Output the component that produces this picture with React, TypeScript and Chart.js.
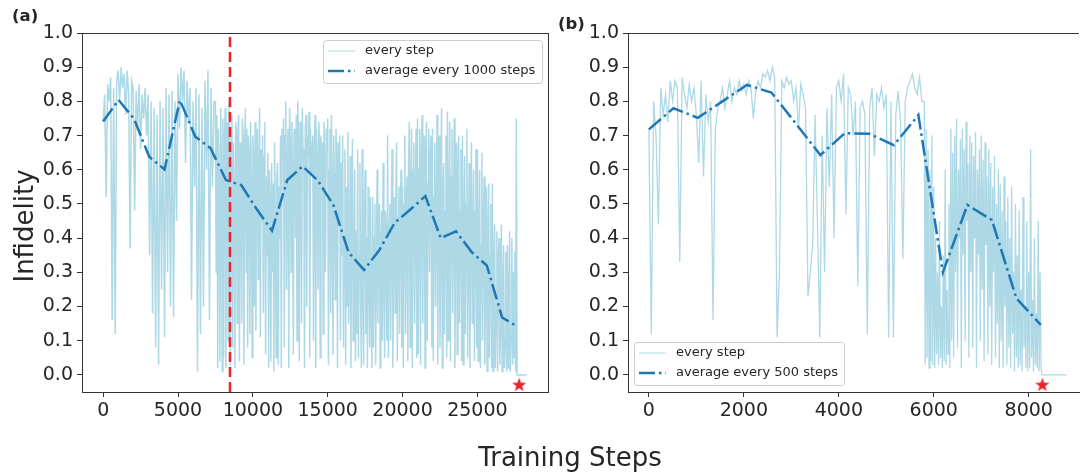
import React, { useEffect, useRef } from "react";
import { Chart, registerables } from "chart.js";

Chart.register(...registerables);

const FONT = "'DejaVu Sans', sans-serif";
const TEXT = "#262626";
const SPINE = "#333333";
const LIGHT = "#add8e6";
const AVG = "#1f77b4";
const RED = "#ee2229";

const yTicks = [0, 0.1, 0.2, 0.3, 0.4, 0.5, 0.6, 0.7, 0.8, 0.9, 1.0];
const xTicksA = [0, 5000, 10000, 15000, 20000, 25000];
const xTicksB = [0, 2000, 4000, 6000, 8000];

// ---------- panel (a) ----------
const stepSizeA1 = 100; // steps 0 .. 7400
const everyStepA1 = [
  0.74, 0.82, 0.52, 0.85, 0.80, 0.87, 0.16, 0.84, 0.12, 0.86,
  0.89, 0.80, 0.90, 0.84, 0.88, 0.76, 0.89, 0.82, 0.37, 0.86,
  0.84, 0.48, 0.83, 0.72, 0.85, 0.66, 0.82, 0.75, 0.84, 0.70,
  0.82, 0.35, 0.80, 0.18, 0.78, 0.08, 0.76, 0.03, 0.80, 0.25,
  0.78, 0.11, 0.84, 0.30, 0.82, 0.20, 0.83, 0.17, 0.80, 0.45,
  0.88, 0.72, 0.90, 0.80, 0.89, 0.62, 0.86, 0.74, 0.84, 0.22,
  0.80, 0.55, 0.84, 0.01, 0.82, 0.12, 0.78, 0.20, 0.86, 0.60,
  0.89, 0.16, 0.84, 0.55, 0.80,
];
const startA2 = 7500;
const stepSizeA2 = 50; // steps 7500 .. 27650
const everyStepA2 = [
  0.80, 0.30, 0.76, 0.02, 0.72, 0.55, 0.04, 0.78, 0.62, 0.01,
  0.75, 0.05, 0.70, 0.78, 0.02, 0.66, 0.74, 0.10, 0.80, 0.60, 0.03, 0.72, 0.76, 0.08, 0.68, 0.50, 0.02, 0.74, 0.70, 0.15,
  0.72, 0.76, 0.04, 0.68, 0.58, 0.15, 0.75, 0.70, 0.03, 0.66, 0.78, 0.30, 0.72, 0.08, 0.70, 0.64, 0.12, 0.74, 0.55, 0.05,
  0.70, 0.62, 0.20, 0.74, 0.13, 0.68, 0.72, 0.28, 0.60, 0.78, 0.11, 0.66, 0.45, 0.70, 0.18, 0.64, 0.74, 0.06, 0.58, 0.35,
  0.65, 0.02, 0.60, 0.50, 0.04, 0.62, 0.30, 0.56, 0.01, 0.68, 0.45, 0.05, 0.58, 0.62, 0.03, 0.55, 0.40, 0.70, 0.02, 0.72,
  0.64, 0.75, 0.08, 0.70, 0.80, 0.25, 0.62, 0.72, 0.02, 0.78, 0.68, 0.30, 0.74, 0.60, 0.06, 0.72, 0.66, 0.40, 0.76, 0.10,
  0.80, 0.68, 0.04, 0.74, 0.70, 0.15, 0.78, 0.66, 0.62, 0.02, 0.72, 0.76, 0.20, 0.70, 0.64, 0.77, 0.05, 0.72, 0.58, 0.68,
  0.70, 0.10, 0.66, 0.76, 0.02, 0.72, 0.62, 0.25, 0.74, 0.68, 0.05, 0.70, 0.56, 0.68, 0.12, 0.74, 0.60, 0.30, 0.72, 0.66,
  0.75, 0.03, 0.60, 0.72, 0.18, 0.76, 0.52, 0.06, 0.70, 0.58, 0.22, 0.72, 0.64, 0.02, 0.68, 0.45, 0.70, 0.10, 0.62, 0.35,
  0.70, 0.08, 0.40, 0.66, 0.03, 0.55, 0.20, 0.71, 0.15, 0.30, 0.64, 0.02, 0.48, 0.69, 0.10, 0.25, 0.60, 0.04, 0.42, 0.12,
  0.66, 0.05, 0.35, 0.62, 0.20, 0.02, 0.66, 0.28, 0.03, 0.50, 0.60, 0.12, 0.40, 0.02, 0.55, 0.30, 0.08, 0.52, 0.18, 0.02,
  0.52, 0.08, 0.40, 0.50, 0.03, 0.30, 0.60, 0.15, 0.45, 0.50, 0.02, 0.38, 0.48, 0.10, 0.62, 0.30, 0.05, 0.48, 0.40, 0.10,
  0.70, 0.05, 0.45, 0.50, 0.10, 0.48, 0.66, 0.02, 0.40, 0.52, 0.18, 0.50, 0.68, 0.04, 0.46, 0.55, 0.12, 0.50, 0.60, 0.08,
  0.55, 0.02, 0.50, 0.70, 0.12, 0.52, 0.58, 0.04, 0.62, 0.74, 0.08, 0.55, 0.72, 0.02, 0.60, 0.68, 0.15, 0.50, 0.72, 0.05,
  0.75, 0.06, 0.60, 0.72, 0.03, 0.62, 0.76, 0.15, 0.58, 0.70, 0.02, 0.66, 0.74, 0.10, 0.56, 0.72, 0.30, 0.64, 0.70, 0.08,
  0.72, 0.04, 0.52, 0.68, 0.20, 0.45, 0.76, 0.03, 0.50, 0.70, 0.08, 0.40, 0.78, 0.02, 0.55, 0.62, 0.12, 0.48, 0.70, 0.05,
  0.77, 0.10, 0.50, 0.74, 0.04, 0.58, 0.72, 0.18, 0.46, 0.75, 0.02, 0.52, 0.68, 0.06, 0.60, 0.70, 0.15, 0.48, 0.66, 0.04,
  0.70, 0.03, 0.44, 0.64, 0.12, 0.50, 0.72, 0.05, 0.38, 0.62, 0.02, 0.45, 0.68, 0.15, 0.40, 0.60, 0.04, 0.48, 0.66, 0.08,
  0.66, 0.04, 0.42, 0.60, 0.02, 0.38, 0.65, 0.10, 0.45, 0.58, 0.03, 0.30, 0.55, 0.01, 0.40, 0.56, 0.05, 0.35, 0.50, 0.02,
  0.56, 0.01, 0.30, 0.44, 0.02, 0.20, 0.42, 0.01, 0.35, 0.40, 0.03, 0.15, 0.44, 0.01, 0.25, 0.38, 0.02, 0.10, 0.36, 0.01,
  0.38, 0.02, 0.20, 0.42, 0.01, 0.12, 0.40, 0.03, 0.30, 0.05, 0.36, 0.01, 0.75, 0.00,
];
const flatEndA = { x: 28300, y: 0.0 };
const avgStepsA = [
  0, 1025, 2050, 3075, 4100, 5125, 6150, 7175, 8200, 9225, 10250, 11275, 12300, 13325,
  14350, 15375, 16400, 17425, 18450, 19475, 20500, 21525, 22550, 23575, 24600, 25625, 26650, 27675,
];
const avgA = [
  0.741, 0.804, 0.75, 0.638, 0.601, 0.804, 0.697, 0.663, 0.57, 0.555, 0.485, 0.422, 0.57, 0.61,
  0.568, 0.497, 0.358, 0.307, 0.365, 0.445, 0.483, 0.523, 0.40, 0.42, 0.36, 0.32, 0.168, 0.141,
];
const markerStepA = 8470;
const bestA = { x: 27790, y: -0.03 };
const legendLabelsA = ["every step", "average every 1000 steps"];

// ---------- panel (b) ----------
const stepSizeB1 = 50; // steps 0 .. 5750
const everyStepB1 = [
  0.72, 0.12, 0.80, 0.70, 0.44, 0.84, 0.76, 0.82, 0.74, 0.86,
  0.80, 0.86, 0.84, 0.33, 0.87, 0.82, 0.78, 0.85, 0.80, 0.84,
  0.76, 0.62, 0.86, 0.58, 0.82, 0.74, 0.80, 0.16, 0.72, 0.78,
  0.80, 0.84, 0.78, 0.82, 0.86, 0.80, 0.84, 0.82, 0.86, 0.83,
  0.85, 0.82, 0.86, 0.84, 0.75, 0.83, 0.86, 0.84, 0.88, 0.87,
  0.89, 0.86, 0.90, 0.87, 0.11, 0.30, 0.86, 0.84, 0.87, 0.85,
  0.86, 0.80, 0.84, 0.72, 0.85, 0.82, 0.78, 0.23, 0.30, 0.38,
  0.76, 0.45, 0.11, 0.70, 0.30, 0.78, 0.55, 0.82, 0.40, 0.84,
  0.86, 0.80, 0.88, 0.47, 0.84, 0.82, 0.70, 0.80, 0.26, 0.78,
  0.80, 0.76, 0.12, 0.78, 0.84, 0.64, 0.82, 0.80, 0.84, 0.78,
  0.82, 0.11, 0.80, 0.11, 0.76, 0.83, 0.74, 0.34, 0.80, 0.84,
  0.86, 0.88, 0.84, 0.82, 0.87, 0.80,
];
const startB2 = 5800;
const stepSizeB2 = 20; // steps 5800 .. 8280
const everyStepB2 = [
  0.80, 0.03, 0.72, 0.05, 0.66, 0.02, 0.60, 0.04, 0.70, 0.03,
  0.55, 0.02, 0.40, 0.06, 0.30, 0.03, 0.45, 0.05, 0.20, 0.02,
  0.35, 0.04, 0.60, 0.03, 0.25, 0.06, 0.50, 0.02, 0.72, 0.10,
  0.65, 0.05, 0.70, 0.30, 0.75, 0.08, 0.60, 0.40, 0.69, 0.02,
  0.72, 0.35, 0.66, 0.10, 0.74, 0.45, 0.62, 0.05, 0.70, 0.30,
  0.68, 0.08, 0.64, 0.40, 0.71, 0.02, 0.60, 0.35, 0.66, 0.10,
  0.70, 0.25, 0.63, 0.04, 0.68, 0.38, 0.58, 0.06, 0.66, 0.20,
  0.62, 0.03, 0.55, 0.30, 0.64, 0.05, 0.50, 0.15, 0.60, 0.02,
  0.56, 0.10, 0.48, 0.02, 0.58, 0.20, 0.45, 0.03, 0.52, 0.08,
  0.40, 0.02, 0.55, 0.12, 0.30, 0.01, 0.50, 0.05, 0.35, 0.02,
  0.48, 0.03, 0.25, 0.01, 0.52, 0.08, 0.20, 0.02, 0.45, 0.01,
  0.30, 0.02, 0.66, 0.05, 0.22, 0.01, 0.40, 0.03, 0.18, 0.02,
  0.45, 0.01, 0.30, 0.02, 0.00,
];
const flatEndB = { x: 8800, y: 0.0 };
const avgStepsB = [0, 516, 1032, 1548, 2064, 2580, 3096, 3612, 4128, 4644, 5160, 5676, 6192, 6708, 7224, 7740, 8256];
const avgB = [0.718, 0.78, 0.752, 0.80, 0.848, 0.826, 0.735, 0.643, 0.707, 0.705, 0.672, 0.76, 0.30, 0.497, 0.453, 0.224, 0.146];
const bestB = { x: 8287, y: -0.03 };
const legendLabelsB = ["every step", "average every 500 steps"];

function makeStar(): HTMLCanvasElement {
  const c = document.createElement("canvas");
  c.width = 18;
  c.height = 18;
  const g = c.getContext("2d")!;
  g.fillStyle = RED;
  g.beginPath();
  const cx = 9, cy = 9, R = 7.5, r = 3.0;
  for (let i = 0; i < 10; i++) {
    const a = -Math.PI / 2 + (i * Math.PI) / 5;
    const rad = i % 2 === 0 ? R : r;
    const px = cx + rad * Math.cos(a);
    const py = cy + rad * Math.sin(a);
    if (i === 0) g.moveTo(px, py);
    else g.lineTo(px, py);
  }
  g.closePath();
  g.fill();
  return c;
}

function framePlugin(drawRight: boolean) {
  return {
    id: "frame",
    afterDatasetsDraw(chart: any) {
      const { ctx, chartArea } = chart;
      ctx.save();
      ctx.strokeStyle = SPINE;
      ctx.lineWidth = 1;
      ctx.beginPath();
      const t = Math.floor(chartArea.top) + 0.5;
      ctx.moveTo(chartArea.left, t);
      ctx.lineTo(chartArea.right, t);
      if (drawRight) {
        const r = Math.floor(chartArea.right) + 0.5;
        ctx.moveTo(r, chartArea.top);
        ctx.lineTo(r, chartArea.bottom);
      }
      ctx.stroke();
      ctx.restore();
    },
  };
}

function legendPlugin(labels: string[], corner: "tr" | "bl", width: number) {
  return {
    id: "mplLegend",
    afterDraw(chart: any) {
      const { ctx, chartArea } = chart;
      const h = 43;
      const left = corner === "tr" ? chartArea.right - 6 - width : chartArea.left + 6;
      const top = corner === "tr" ? chartArea.top + 7 : chartArea.bottom - 7 - h;
      ctx.save();
      ctx.beginPath();
      const rr = 3;
      const x0 = Math.round(left) + 0.5, y0 = Math.round(top) + 0.5;
      ctx.moveTo(x0 + rr, y0);
      ctx.arcTo(x0 + width, y0, x0 + width, y0 + h, rr);
      ctx.arcTo(x0 + width, y0 + h, x0, y0 + h, rr);
      ctx.arcTo(x0, y0 + h, x0, y0, rr);
      ctx.arcTo(x0, y0, x0 + width, y0, rr);
      ctx.closePath();
      ctx.fillStyle = "rgba(255,255,255,0.8)";
      ctx.fill();
      ctx.strokeStyle = "#cccccc";
      ctx.lineWidth = 1;
      ctx.stroke();

      const rows = [top + 11, top + 31];
      ctx.strokeStyle = LIGHT;
      ctx.lineWidth = 1;
      ctx.setLineDash([]);
      ctx.beginPath();
      ctx.moveTo(left + 5, rows[0]);
      ctx.lineTo(left + 32, rows[0]);
      ctx.stroke();
      ctx.strokeStyle = AVG;
      ctx.lineWidth = 2.5;
      ctx.setLineDash([16, 4, 2.5, 4]);
      ctx.beginPath();
      ctx.moveTo(left + 5, rows[1]);
      ctx.lineTo(left + 32, rows[1]);
      ctx.stroke();
      ctx.setLineDash([]);

      ctx.fillStyle = TEXT;
      ctx.font = `13px ${FONT}`;
      ctx.textBaseline = "middle";
      ctx.textAlign = "left";
      ctx.fillText(labels[0], left + 42, rows[0]);
      ctx.fillText(labels[1], left + 42, rows[1]);
      ctx.restore();
    },
  };
}

function xScale(min: number, max: number, ticks: number[]) {
  return {
    type: "linear",
    min,
    max,
    afterBuildTicks: (s: any) => {
      s.ticks = ticks.map((v) => ({ value: v }));
    },
    afterFit: (s: any) => {
      s.height = 80;
    },
    grid: { drawOnChartArea: false, drawTicks: true, tickLength: 5, tickColor: SPINE, tickWidth: 1 },
    border: { display: true, color: SPINE, width: 1 },
    ticks: {
      color: TEXT,
      font: { family: FONT, size: 19 },
      padding: 3,
      maxRotation: 0,
      autoSkip: false,
      callback: (v: any) => String(v),
    },
  };
}

function yScale(width: number) {
  return {
    type: "linear",
    min: -0.05,
    max: 1.0,
    afterBuildTicks: (s: any) => {
      s.ticks = yTicks.map((v) => ({ value: v }));
    },
    afterFit: (s: any) => {
      s.width = width;
    },
    grid: { drawOnChartArea: false, drawTicks: true, tickLength: 5, tickColor: SPINE, tickWidth: 1 },
    border: { display: true, color: SPINE, width: 1 },
    ticks: {
      color: TEXT,
      font: { family: FONT, size: 19 },
      padding: 4,
      autoSkip: false,
      callback: (v: any) => Number(v).toFixed(1),
    },
  };
}

function buildDatasets(
  everyPoints: { x: number; y: number }[],
  everyWidth: number,
  avgSteps: number[],
  avg: number[],
  best: { x: number; y: number },
  star: HTMLCanvasElement,
  marker?: number
) {
  const ds: any[] = [
    {
      data: everyPoints,
      borderColor: LIGHT,
      borderWidth: everyWidth,
      pointRadius: 0,
      fill: false,
      tension: 0,
      order: 4,
    },
    {
      data: avgSteps.map((s, i) => ({ x: s, y: avg[i] })),
      borderColor: AVG,
      borderWidth: 2.5,
      borderDash: [16, 4, 2.5, 4],
      pointRadius: 0,
      fill: false,
      tension: 0,
      order: 3,
    },
    {
      data: [best],
      showLine: false,
      pointStyle: star,
      pointRadius: 8,
      borderWidth: 0,
      backgroundColor: RED,
      clip: false,
      order: 1,
    },
  ];
  if (marker !== undefined) {
    ds.push({
      data: [
        { x: marker, y: -0.05 },
        { x: marker, y: 1.0 },
      ],
      borderColor: RED,
      borderWidth: 2.5,
      borderDash: [10, 5],
      pointRadius: 0,
      fill: false,
      order: 2,
    });
  }
  return ds;
}

export default function App() {
  const refA = useRef<HTMLCanvasElement>(null);
  const refB = useRef<HTMLCanvasElement>(null);

  useEffect(() => {
    const star = makeStar();
    const common = {
      responsive: false,
      animation: false,
      events: [],
      plugins: { legend: { display: false }, tooltip: { enabled: false } },
    };
    const pointsA = everyStepA1.map((v, i) => ({ x: i * stepSizeA1, y: v }));
    everyStepA2.forEach((v, i) => pointsA.push({ x: startA2 + i * stepSizeA2, y: v }));
    pointsA.push(flatEndA);
    const pointsB = everyStepB1.map((v, i) => ({ x: i * stepSizeB1, y: v }));
    everyStepB2.forEach((v, i) => pointsB.push({ x: startB2 + i * stepSizeB2, y: v }));
    pointsB.push(flatEndB);

    const chartA = new Chart(refA.current as HTMLCanvasElement, {
      type: "line",
      data: { datasets: buildDatasets(pointsA, 1.5, avgStepsA, avgA, bestA, star, markerStepA) },
      options: {
        ...common,
        layout: { padding: { top: 33, right: 7, left: 0, bottom: 0 } },
        scales: { x: xScale(-1415, 29715, xTicksA), y: yScale(82) },
      } as any,
      plugins: [framePlugin(true), legendPlugin(legendLabelsA, "tr", 219)],
    });
    const chartB = new Chart(refB.current as HTMLCanvasElement, {
      type: "line",
      data: { datasets: buildDatasets(pointsB, 1.3, avgStepsB, avgB, bestB, star) },
      options: {
        ...common,
        layout: { padding: { top: 33, right: 0, left: 0, bottom: 0 } },
        scales: { x: xScale(-440, 9059, xTicksB), y: yScale(72) },
      } as any,
      plugins: [framePlugin(false), legendPlugin(legendLabelsB, "bl", 210)],
    });
    return () => {
      chartA.destroy();
      chartB.destroy();
    };
  }, []);

  const textBase: React.CSSProperties = {
    position: "absolute",
    fontFamily: FONT,
    color: TEXT,
    whiteSpace: "nowrap",
  };

  return (
    <div style={{ position: "absolute", left: 0, top: 0, width: 1087, height: 472, background: "#fff", overflow: "hidden" }}>
      <canvas ref={refA} width={556} height={472} style={{ position: "absolute", left: 0, top: 0, width: 556, height: 472 }} />
      <canvas ref={refB} width={531} height={472} style={{ position: "absolute", left: 556, top: 0, width: 531, height: 472 }} />
      <div style={{ ...textBase, left: 12, top: 7, fontSize: 16.5, lineHeight: "18px", fontWeight: "bold" }}>(a)</div>
      <div style={{ ...textBase, left: 558, top: 15, fontSize: 16.5, lineHeight: "18px", fontWeight: "bold" }}>(b)</div>
      <div
        style={{
          ...textBase,
          left: 24 - 100,
          top: 226 - 13,
          width: 200,
          height: 26,
          fontSize: 26,
          lineHeight: "26px",
          textAlign: "center",
          transform: "rotate(-90deg)",
        }}
      >
        Infidelity
      </div>
      <div
        style={{
          ...textBase,
          left: 570 - 150,
          top: 444,
          width: 300,
          height: 26,
          fontSize: 26,
          lineHeight: "26px",
          textAlign: "center",
        }}
      >
        Training Steps
      </div>
    </div>
  );
}
